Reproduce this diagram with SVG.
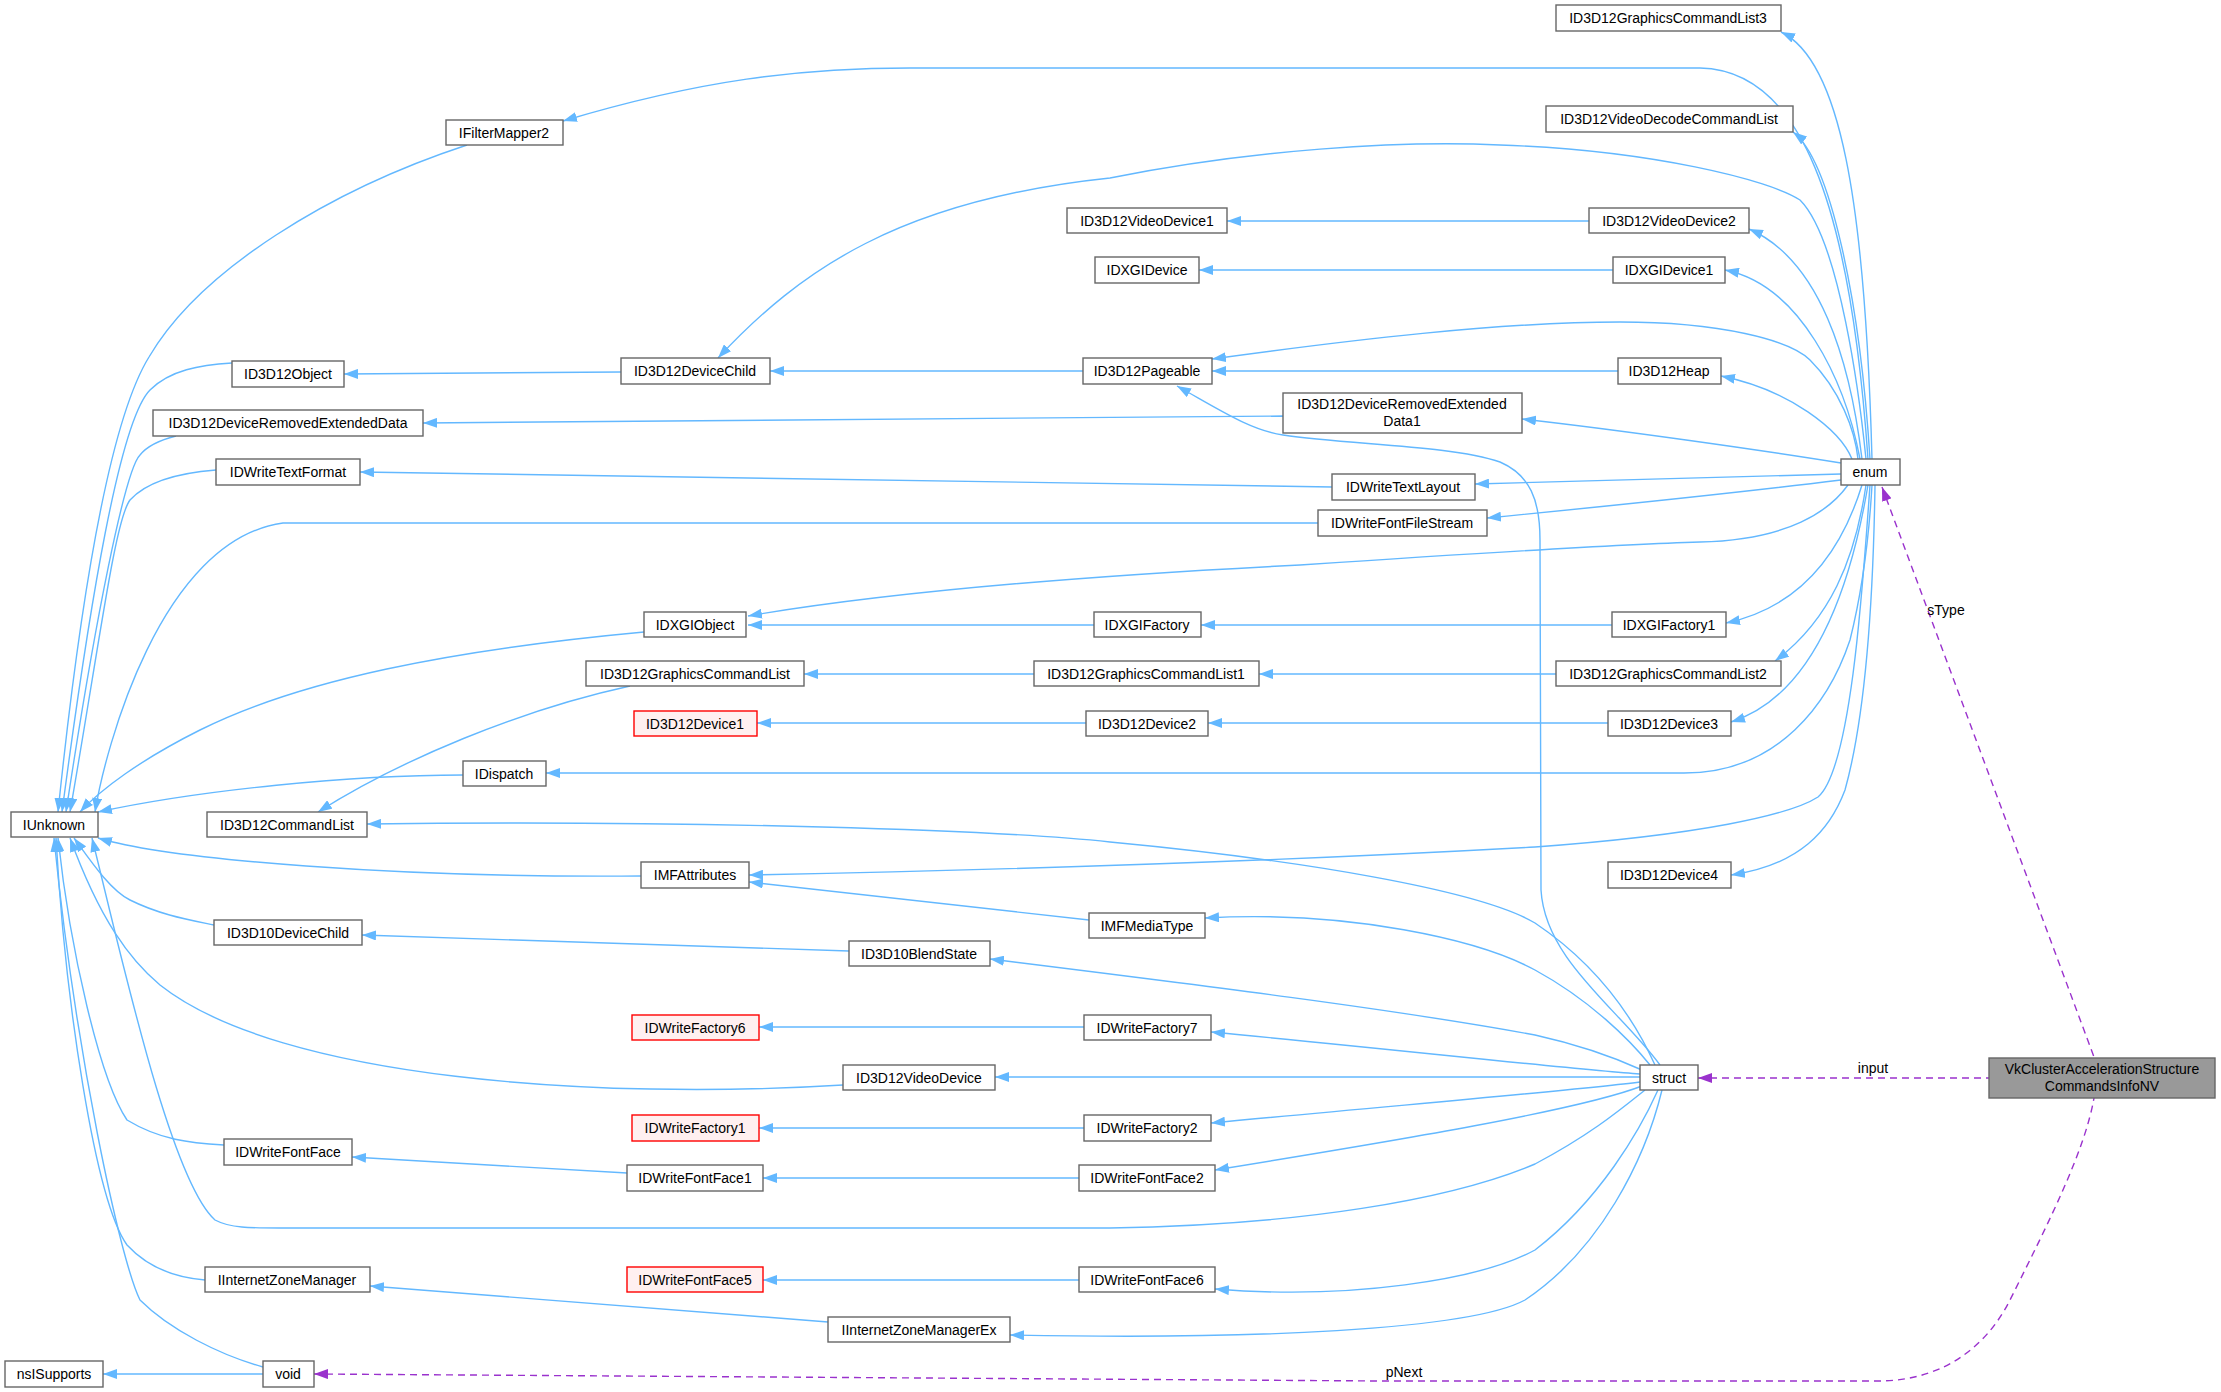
<svg xmlns="http://www.w3.org/2000/svg" width="2221" height="1392" viewBox="0 0 2221 1392">
<style>
.n rect{fill:#fff;stroke:#666;stroke-width:1.4}
.r rect{fill:#fff0f0;stroke:#f00}
.g rect{fill:#999;stroke:#666}
text{font-family:"Liberation Sans",Arial,sans-serif;font-size:14px;fill:#000;text-anchor:middle}
.e path{fill:none;stroke:#63b8ff;stroke-width:1.4;marker-start:url(#a)}
.d path{fill:none;stroke:#9a32cd;stroke-width:1.4;stroke-dasharray:7,5;marker-start:url(#p)}
</style>
<defs>
<marker id="a" viewBox="0 0 14 10" refX="14" refY="5" markerWidth="14" markerHeight="10" markerUnits="userSpaceOnUse" orient="auto-start-reverse"><path d="M0,0 L14,5 L0,10 z" fill="#63b8ff"/></marker>
<marker id="p" viewBox="0 0 14 10" refX="14" refY="5" markerWidth="14" markerHeight="10" markerUnits="userSpaceOnUse" orient="auto-start-reverse"><path d="M0,0 L14,5 L0,10 z" fill="#9a32cd"/></marker>
</defs>
<rect width="2221" height="1392" fill="#fff"/>
<g class="e" id="edges">
<path d="M1781,32 C1840,60 1865,200 1872,459"/>
<path d="M563,121 C700,80 800,68 910,68 L1700,68 C1800,70 1850,200 1868,459"/>
<path d="M1793,132 C1830,160 1860,300 1870,459"/>
<path d="M718,358 C800,270 900,200 1110,178 C1250,150 1400,140 1500,145 C1650,150 1770,180 1800,200 C1840,240 1860,400 1866,459"/>
<path d="M1227,221 L1589,221"/>
<path d="M1199,270 L1613,270"/>
<path d="M1749,229 C1820,260 1850,360 1862,459"/>
<path d="M1725,270 C1800,285 1845,380 1860,459"/>
<path d="M344,374 L621,372"/>
<path d="M770,371 L1083,371"/>
<path d="M1212,359 C1350,340 1500,322 1620,322 C1720,322 1790,340 1810,360 C1840,390 1855,430 1858,459"/>
<path d="M1212,371 L1618,371"/>
<path d="M1721,376 C1790,390 1840,430 1852,459"/>
<path d="M423,423 L1283,416"/>
<path d="M1522,419 C1620,430 1760,450 1841,463"/>
<path d="M360,472 L1332,487"/>
<path d="M1475,484 L1841,474"/>
<path d="M1487,518 C1620,505 1760,490 1841,480"/>
<path d="M748,616 C900,590 1100,575 1300,565 C1450,555 1600,545 1700,542 C1790,540 1830,510 1848,485"/>
<path d="M748,625 L1094,625"/>
<path d="M1201,625 L1612,625"/>
<path d="M1726,623 C1810,605 1845,540 1862,485"/>
<path d="M1775,661 C1830,620 1855,560 1866,485"/>
<path d="M804,674 L1034,674"/>
<path d="M1259,674 L1556,674"/>
<path d="M757,723 L1086,723"/>
<path d="M1208,723 L1608,723"/>
<path d="M1731,722 C1800,700 1845,620 1868,485"/>
<path d="M546,773 L1680,773 C1780,775 1830,700 1850,640 C1865,580 1870,520 1872,485"/>
<path d="M749,875 C1000,870 1300,860 1535,847 C1700,835 1790,815 1818,797 C1850,770 1862,600 1870,485"/>
<path d="M1731,875 C1800,865 1830,830 1845,790 C1870,700 1874,550 1875,485"/>
<path d="M1177,386 C1220,410 1250,430 1283,435 C1350,445 1450,445 1500,462 C1530,475 1540,500 1540,540 L1541,890 C1545,960 1620,1010 1660,1065"/>
<path d="M367,824 C700,820 1000,830 1110,842 C1300,860 1480,890 1535,923 C1590,960 1630,1010 1655,1065"/>
<path d="M749,882 L1089,920"/>
<path d="M1205,918 C1350,910 1480,940 1535,970 C1590,1000 1630,1040 1650,1065"/>
<path d="M990,959 C1200,985 1400,1010 1535,1035 C1580,1045 1620,1060 1642,1070"/>
<path d="M362,935 L849,951"/>
<path d="M759,1027 L1084,1027"/>
<path d="M1211,1032 C1400,1050 1580,1070 1640,1074"/>
<path d="M995,1077 L1640,1077"/>
<path d="M759,1128 L1084,1128"/>
<path d="M1211,1123 C1400,1105 1580,1090 1640,1082"/>
<path d="M352,1157 L627,1173"/>
<path d="M763,1178 L1079,1178"/>
<path d="M1215,1170 C1400,1140 1580,1110 1642,1086"/>
<path d="M92,838 C120,950 170,1180 215,1220 C230,1228 250,1228 280,1228 L1110,1228 C1300,1225 1450,1200 1535,1164 C1590,1135 1620,1110 1645,1090"/>
<path d="M763,1280 L1079,1280"/>
<path d="M1215,1289 C1350,1300 1480,1280 1535,1250 C1600,1200 1640,1130 1658,1090"/>
<path d="M370,1286 L828,1322"/>
<path d="M1010,1335 C1250,1340 1470,1330 1525,1300 C1600,1250 1645,1160 1662,1090"/>
<path d="M58,812 C80,600 110,420 149,357 C200,270 330,190 467,145"/>
<path d="M62,812 C90,600 120,420 150,390 C170,370 200,365 232,363"/>
<path d="M66,812 C95,620 125,470 140,455 C148,445 160,440 176,436"/>
<path d="M70,812 C100,640 115,520 130,500 C150,478 190,472 216,470"/>
<path d="M95,812 C105,750 160,540 283,523 L1318,523"/>
<path d="M80,812 C100,790 140,760 200,730 C300,680 450,650 644,632"/>
<path d="M98,812 C200,790 350,775 463,775"/>
<path d="M98,838 C170,860 400,878 641,876"/>
<path d="M74,838 C90,860 110,890 130,900 C160,915 190,920 214,925"/>
<path d="M70,838 C100,920 130,960 160,985 C280,1080 600,1100 843,1085"/>
<path d="M58,838 C70,950 100,1080 127,1120 C160,1140 190,1143 224,1145"/>
<path d="M56,838 C65,1000 95,1200 127,1245 C150,1270 180,1278 205,1280"/>
<path d="M54,838 C75,1050 120,1260 140,1300 C170,1330 220,1355 263,1367"/>
<path d="M103,1374 L263,1374"/>
<path d="M318,812 C400,760 520,710 630,686"/>
</g>
<g class="d" id="dashed">
<path d="M1698,1078 L1989,1078"/>
<path d="M1882,487 L2094,1057"/>
<path d="M314,1374 L1380,1381 L1880,1381 C1950,1380 1990,1340 2010,1300 C2050,1220 2085,1150 2094,1098"/>
</g>
<g id="labels">
<text x="1873" y="1073">input</text>
<text x="1946" y="615">sType</text>
<text x="1404" y="1377">pNext</text>
</g>
<g class="n" id="GCL3"><rect x="1556" y="5" width="225" height="26"/><text x="1668" y="23">ID3D12GraphicsCommandList3</text></g>
<g class="n" id="IFilterMapper2"><rect x="446" y="120" width="117" height="25"/><text x="504" y="138">IFilterMapper2</text></g>
<g class="n" id="VDCL"><rect x="1546" y="106" width="247" height="26"/><text x="1669" y="124">ID3D12VideoDecodeCommandList</text></g>
<g class="n" id="VideoDevice1"><rect x="1067" y="208" width="160" height="25"/><text x="1147" y="226">ID3D12VideoDevice1</text></g>
<g class="n" id="VideoDevice2"><rect x="1589" y="208" width="160" height="25"/><text x="1669" y="226">ID3D12VideoDevice2</text></g>
<g class="n" id="IDXGIDevice"><rect x="1095" y="257" width="104" height="26"/><text x="1147" y="275">IDXGIDevice</text></g>
<g class="n" id="IDXGIDevice1"><rect x="1613" y="257" width="112" height="26"/><text x="1669" y="275">IDXGIDevice1</text></g>
<g class="n" id="ID3D12Object"><rect x="232" y="361" width="112" height="26"/><text x="288" y="379">ID3D12Object</text></g>
<g class="n" id="DeviceChild"><rect x="621" y="358" width="149" height="26"/><text x="695" y="376">ID3D12DeviceChild</text></g>
<g class="n" id="Pageable"><rect x="1083" y="358" width="129" height="26"/><text x="1147" y="376">ID3D12Pageable</text></g>
<g class="n" id="Heap"><rect x="1618" y="358" width="103" height="26"/><text x="1669" y="376">ID3D12Heap</text></g>
<g class="n" id="DRED"><rect x="153" y="410" width="270" height="26"/><text x="288" y="428">ID3D12DeviceRemovedExtendedData</text></g>
<g class="n" id="DRED1"><rect x="1283" y="393" width="239" height="40"/><text x="1402" y="409">ID3D12DeviceRemovedExtended</text><text x="1402" y="426">Data1</text></g>
<g class="n" id="TextFormat"><rect x="216" y="459" width="144" height="26"/><text x="288" y="477">IDWriteTextFormat</text></g>
<g class="n" id="TextLayout"><rect x="1332" y="474" width="143" height="26"/><text x="1403" y="492">IDWriteTextLayout</text></g>
<g class="n" id="enum"><rect x="1841" y="459" width="59" height="26"/><text x="1870" y="477">enum</text></g>
<g class="n" id="FontFileStream"><rect x="1318" y="510" width="169" height="26"/><text x="1402" y="528">IDWriteFontFileStream</text></g>
<g class="n" id="IDXGIObject"><rect x="644" y="612" width="102" height="25"/><text x="695" y="630">IDXGIObject</text></g>
<g class="n" id="IDXGIFactory"><rect x="1094" y="612" width="107" height="25"/><text x="1147" y="630">IDXGIFactory</text></g>
<g class="n" id="IDXGIFactory1"><rect x="1612" y="612" width="114" height="25"/><text x="1669" y="630">IDXGIFactory1</text></g>
<g class="n" id="GCL"><rect x="586" y="661" width="218" height="25"/><text x="695" y="679">ID3D12GraphicsCommandList</text></g>
<g class="n" id="GCL1"><rect x="1034" y="661" width="225" height="25"/><text x="1146" y="679">ID3D12GraphicsCommandList1</text></g>
<g class="n" id="GCL2"><rect x="1556" y="661" width="225" height="25"/><text x="1668" y="679">ID3D12GraphicsCommandList2</text></g>
<g class="n r" id="Device1"><rect x="634" y="711" width="123" height="25"/><text x="695" y="729">ID3D12Device1</text></g>
<g class="n" id="Device2"><rect x="1086" y="711" width="122" height="25"/><text x="1147" y="729">ID3D12Device2</text></g>
<g class="n" id="Device3"><rect x="1608" y="711" width="123" height="25"/><text x="1669" y="729">ID3D12Device3</text></g>
<g class="n" id="IDispatch"><rect x="463" y="761" width="83" height="25"/><text x="504" y="779">IDispatch</text></g>
<g class="n" id="IUnknown"><rect x="11" y="812" width="87" height="25"/><text x="54" y="830">IUnknown</text></g>
<g class="n" id="CommandList"><rect x="207" y="812" width="160" height="25"/><text x="287" y="830">ID3D12CommandList</text></g>
<g class="n" id="IMFAttributes"><rect x="641" y="862" width="108" height="26"/><text x="695" y="880">IMFAttributes</text></g>
<g class="n" id="Device4"><rect x="1608" y="862" width="123" height="26"/><text x="1669" y="880">ID3D12Device4</text></g>
<g class="n" id="IMFMediaType"><rect x="1089" y="913" width="116" height="25"/><text x="1147" y="931">IMFMediaType</text></g>
<g class="n" id="D10DeviceChild"><rect x="214" y="920" width="148" height="25"/><text x="288" y="938">ID3D10DeviceChild</text></g>
<g class="n" id="BlendState"><rect x="849" y="941" width="141" height="25"/><text x="919" y="959">ID3D10BlendState</text></g>
<g class="n r" id="Factory6"><rect x="632" y="1015" width="127" height="25"/><text x="695" y="1033">IDWriteFactory6</text></g>
<g class="n" id="Factory7"><rect x="1084" y="1015" width="127" height="25"/><text x="1147" y="1033">IDWriteFactory7</text></g>
<g class="n" id="VideoDevice"><rect x="843" y="1065" width="152" height="25"/><text x="919" y="1083">ID3D12VideoDevice</text></g>
<g class="n" id="struct"><rect x="1640" y="1065" width="58" height="25"/><text x="1669" y="1083">struct</text></g>
<g class="n g" id="VkCluster"><rect x="1989" y="1058" width="226" height="40"/><text x="2102" y="1074">VkClusterAccelerationStructure</text><text x="2102" y="1091">CommandsInfoNV</text></g>
<g class="n r" id="Factory1"><rect x="632" y="1115" width="127" height="26"/><text x="695" y="1133">IDWriteFactory1</text></g>
<g class="n" id="Factory2"><rect x="1084" y="1115" width="127" height="26"/><text x="1147" y="1133">IDWriteFactory2</text></g>
<g class="n" id="FontFace"><rect x="224" y="1139" width="128" height="26"/><text x="288" y="1157">IDWriteFontFace</text></g>
<g class="n" id="FontFace1"><rect x="627" y="1165" width="136" height="26"/><text x="695" y="1183">IDWriteFontFace1</text></g>
<g class="n" id="FontFace2"><rect x="1079" y="1165" width="136" height="26"/><text x="1147" y="1183">IDWriteFontFace2</text></g>
<g class="n r" id="FontFace5"><rect x="627" y="1267" width="136" height="25"/><text x="695" y="1285">IDWriteFontFace5</text></g>
<g class="n" id="FontFace6"><rect x="1079" y="1267" width="136" height="25"/><text x="1147" y="1285">IDWriteFontFace6</text></g>
<g class="n" id="IZM"><rect x="205" y="1267" width="165" height="25"/><text x="287" y="1285">IInternetZoneManager</text></g>
<g class="n" id="IZMEx"><rect x="828" y="1317" width="182" height="25"/><text x="919" y="1335">IInternetZoneManagerEx</text></g>
<g class="n" id="nsISupports"><rect x="5" y="1361" width="98" height="26"/><text x="54" y="1379">nsISupports</text></g>
<g class="n" id="void"><rect x="263" y="1361" width="51" height="26"/><text x="288" y="1379">void</text></g>
</svg>
